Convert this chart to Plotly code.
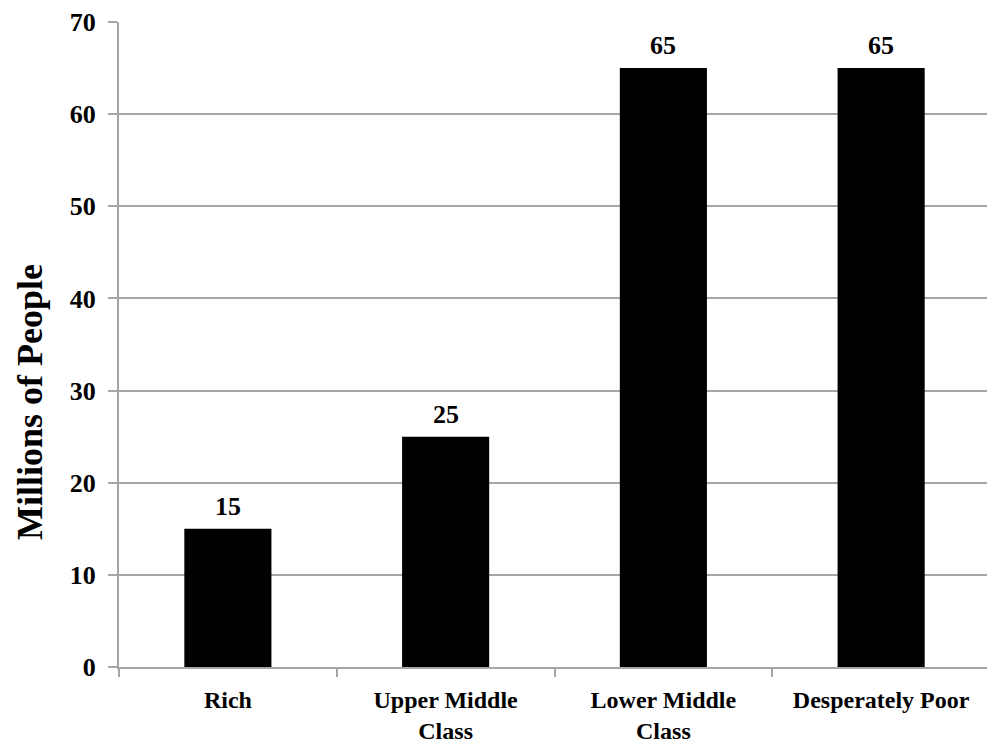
import plotly.graph_objects as go

categories = ["Rich", "Upper Middle<br>Class", "Lower Middle<br>Class", "Desperately Poor"]
values = [15, 25, 65, 65]
y_ticks = [0, 10, 20, 30, 40, 50, 60, 70]

FONT = "Liberation Serif"
GRID = "#a6a6a6"

fig = go.Figure(go.Bar(
    x=categories, y=values,
    marker=dict(color="black", line=dict(width=0)),
    cliponaxis=False,
))

# value labels above bars
for c, v in zip(categories, values):
    fig.add_annotation(
        x=c, y=v, text=f"<b>{v}</b>", showarrow=False,
        xanchor="center", yanchor="bottom", yshift=6,
        font=dict(family=FONT, size=26, color="black"),
    )

fig.update_layout(
    width=987, height=738,
    margin=dict(l=111, r=5, t=14, b=79, autoexpand=False),
    paper_bgcolor="white", plot_bgcolor="white",
    bargap=0.6,
    showlegend=False,
    font=dict(family=FONT, color="black"),
)
fig.update_xaxes(
    type="category", showgrid=False, showline=True, linecolor=GRID, linewidth=2,
    ticks="outside", tickson="boundaries", ticklen=8, tickcolor=GRID, tickwidth=2,
    tickfont=dict(family=FONT, size=24, color="black", weight="bold"),
    ticklabelstandoff=10, automargin=False,
)
fig.update_yaxes(
    range=[0, 70], tickvals=y_ticks, showgrid=True, gridcolor=GRID, gridwidth=2,
    showline=True, linecolor=GRID, linewidth=2,
    ticks="outside", ticklen=9, tickcolor=GRID, tickwidth=2,
    tickfont=dict(family=FONT, size=26, color="black", weight="bold"), ticklabelstandoff=7,
    zeroline=False, automargin=False,
)
fig.add_annotation(
    text="<b>Millions of People</b>", textangle=-90,
    xref="paper", yref="paper", x=-0.102, y=0.411,
    xanchor="center", yanchor="middle", showarrow=False,
    font=dict(family=FONT, size=36, color="black"),
)

fig.write_html("out.html")
